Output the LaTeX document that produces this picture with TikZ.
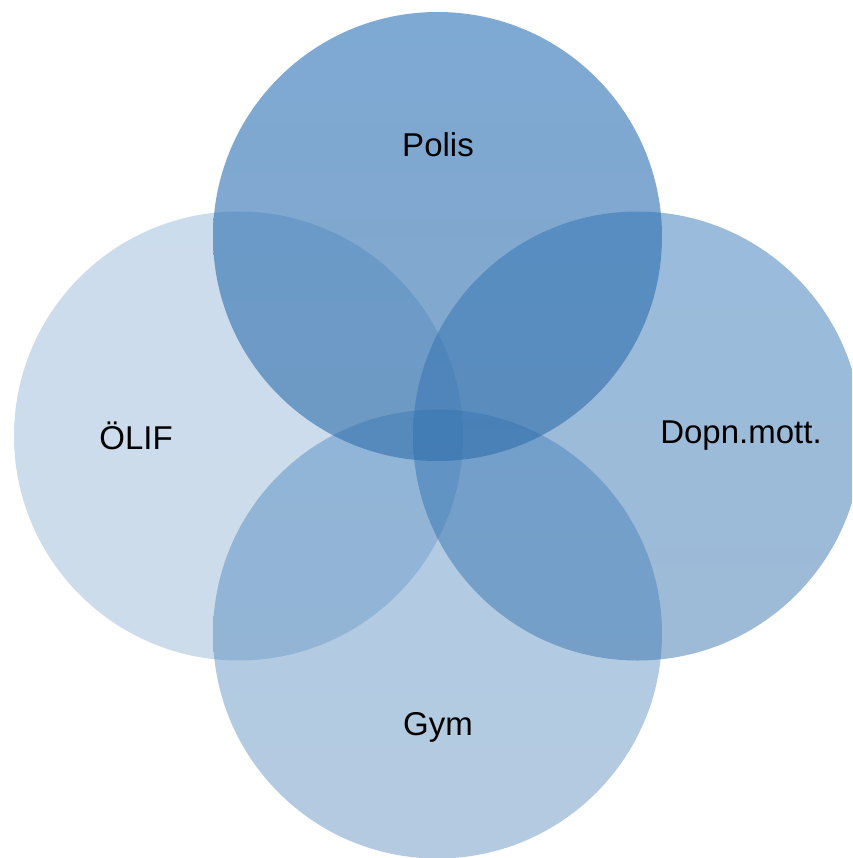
\documentclass[tikz,border=0pt]{standalone}
\usepackage{fontspec}
\setmainfont{Liberation Sans}
\definecolor{basec}{RGB}{41,112,182}
\definecolor{basegrey}{RGB}{48,110,170}
\tikzset{
  venn/.style={top color=basec, bottom color=basegrey, draw=none},
  lbl/.style={font=\fontsize{33}{38}\selectfont, text=black, inner sep=0pt}
}
\begin{document}
\begin{tikzpicture}[x=1pt,y=-1pt]
\useasboundingbox (0,0) rectangle (852,858);
\clip (0,0) rectangle (852,858);
\fill[white] (0,0) rectangle (852,858);
\path[venn, fill opacity=0.24] (238.5,436) circle[radius=224.5];
\path[venn, fill opacity=0.36] (437.5,634) circle[radius=224.5];
\path[venn, fill opacity=0.47] (637.5,436) circle[radius=224.5];
\path[venn, fill opacity=0.60] (437.5,236.5) circle[radius=224.5];
\node[lbl] (polis) at (438,145) {Polis};
\node[lbl] (olif) at (136,436) {ÖLIF};
\node[lbl] (dopn) at (741,436) {Dopn.mott.};
\node[lbl] (gym) at (438,727) {Gym};
\end{tikzpicture}
\end{document}
